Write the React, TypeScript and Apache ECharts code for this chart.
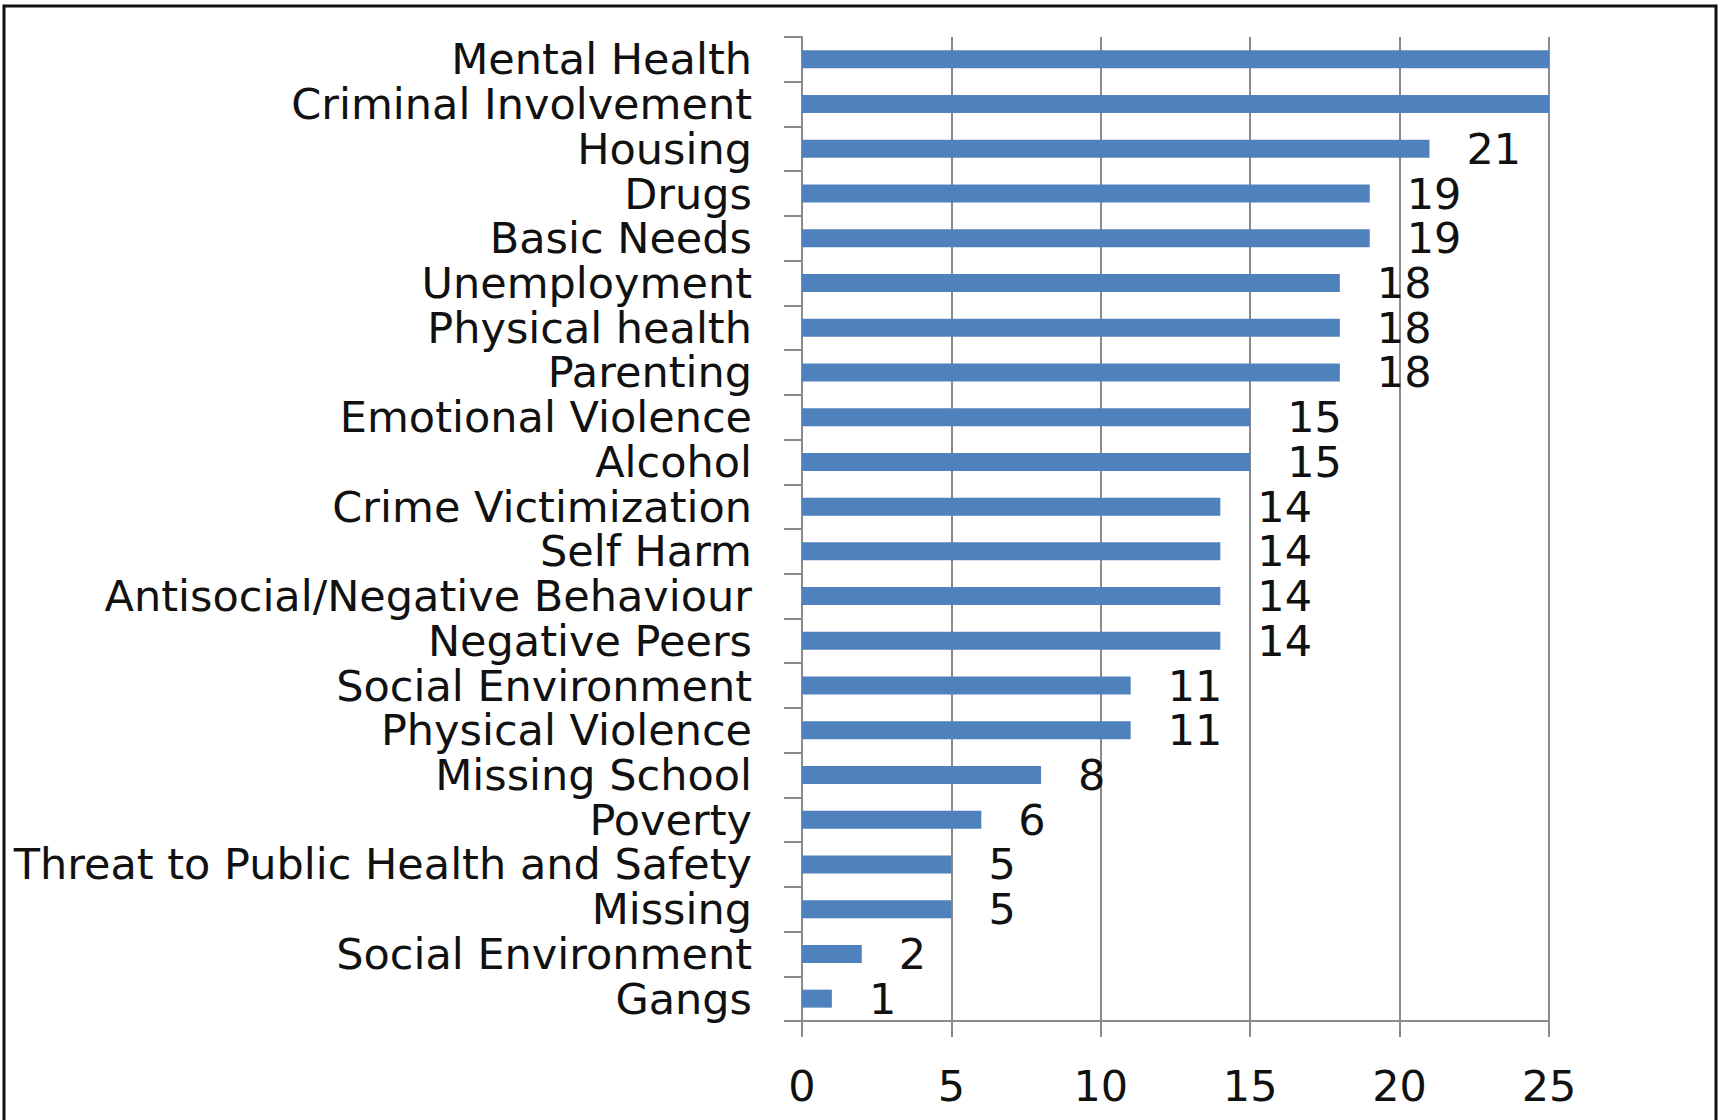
import React, { useEffect, useRef } from "react";
import * as echarts from "echarts";

const categories = [
  "Mental Health",
  "Criminal Involvement",
  "Housing",
  "Drugs",
  "Basic Needs",
  "Unemployment",
  "Physical health",
  "Parenting",
  "Emotional Violence",
  "Alcohol",
  "Crime Victimization",
  "Self Harm",
  "Antisocial/Negative Behaviour",
  "Negative Peers",
  "Social Environment",
  "Physical Violence",
  "Missing School",
  "Poverty",
  "Threat to Public Health and Safety",
  "Missing",
  "Social Environment",
  "Gangs",
];

const values = [25, 25, 21, 19, 19, 18, 18, 18, 15, 15, 14, 14, 14, 14, 11, 11, 8, 6, 5, 5, 2, 1];
// bars that run off the axis end show no label in the reference
const hiddenLabels = [0, 1];

const xMin = 0;
const xMax = 25;
const xStep = 5;

const FONT = "DejaVu Sans";
const GRAY = "#8a8a8a";
const BLUE = "#4F81BD";

export default function App() {
  const ref = useRef<HTMLDivElement>(null);
  useEffect(() => {
    const chart = echarts.init(ref.current!, null, { renderer: "svg" });
    chart.setOption({
      animation: false,
      backgroundColor: "#ffffff",
      textStyle: { fontFamily: FONT },
      graphic: [
        {
          type: "rect",
          shape: { x: 4, y: 6, width: 1712, height: 1130 },
          style: { fill: "none", stroke: "#111", lineWidth: 3 },
          z: 100,
        },
      ],
      grid: { left: 802, top: 37, right: 172, bottom: 99, containLabel: false },
      xAxis: {
        type: "value",
        min: xMin,
        max: xMax,
        interval: xStep,
        axisLine: { show: true, lineStyle: { color: GRAY, width: 2 } },
        axisTick: { show: true, inside: false, length: 16, lineStyle: { color: GRAY, width: 2 } },
        splitLine: { show: true, lineStyle: { color: GRAY, width: 2 } },
        axisLabel: { fontSize: 43, color: "#111", fontFamily: FONT, margin: 43 },
      },
      yAxis: {
        type: "category",
        inverse: true,
        data: categories,
        axisLine: { show: true, lineStyle: { color: GRAY, width: 2 } },
        axisTick: { show: true, inside: false, length: 18, lineStyle: { color: GRAY, width: 2 } },
        axisLabel: {
          interval: 0,
          fontSize: 43,
          lineHeight: 40,
          color: "#111",
          fontFamily: FONT,
          margin: 50,
        },
        splitLine: { show: false },
      },
      series: [
        {
          type: "bar",
          barWidth: 18,
          itemStyle: { color: BLUE },
          label: {
            show: true,
            position: "right",
            distance: 37,
            fontSize: 43,
            lineHeight: 40,
            color: "#111",
            fontFamily: FONT,
          },
          data: values.map((v, i) =>
            hiddenLabels.includes(i) ? { value: v, label: { show: false } } : v
          ),
        },
      ],
    });
    return () => chart.dispose();
  }, []);
  return (
    <div
      ref={ref}
      style={{ position: "fixed", left: 0, top: 0, width: 1721, height: 1120 }}
    />
  );
}
